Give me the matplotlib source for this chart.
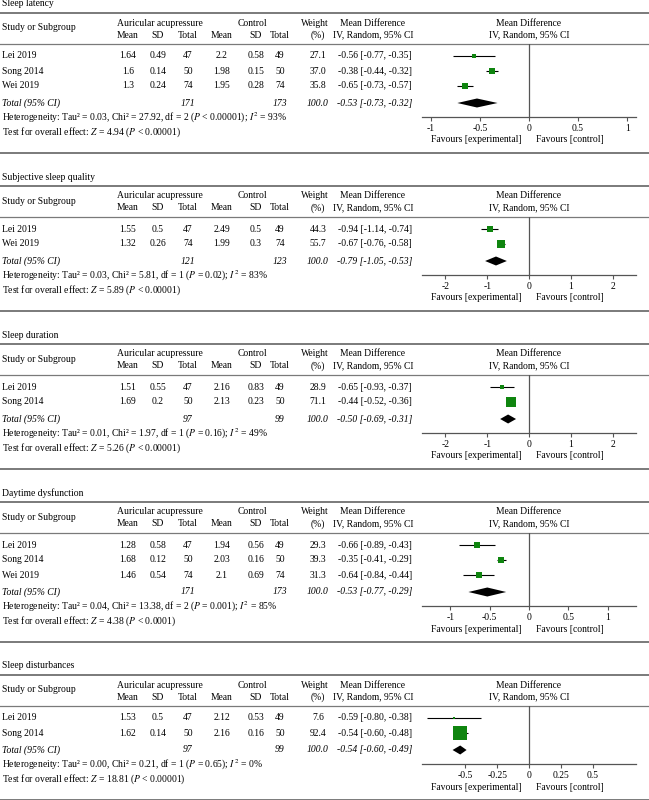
import numpy as np
import matplotlib.pyplot as plt

plt.rcParams["font.family"] = ["Liberation Serif", "DejaVu Serif"]
plt.rcParams["mathtext.fontset"] = "stix"
plt.rcParams["axes.unicode_minus"] = False

# ---- data ----
# Sleep latency
lat_study = ["Lei 2019", "Song 2014", "Wei 2019"]
lat_exp_mean = [1.64, 1.6, 1.3]
lat_exp_sd = [0.49, 0.14, 0.24]
lat_exp_n = [47, 50, 74]
lat_ctl_mean = [2.2, 1.98, 1.95]
lat_ctl_sd = [0.58, 0.15, 0.28]
lat_ctl_n = [49, 50, 74]
lat_weight = [27.1, 37.0, 35.8]
lat_md = [-0.56, -0.38, -0.65]
lat_lo = [-0.77, -0.44, -0.73]
lat_hi = [-0.35, -0.32, -0.57]
lat_total = [-0.53, -0.73, -0.32]
lat_het = ["0.03", "27.92", 2, "< 0.00001", 93]
lat_z = ["4.94", "< 0.00001"]

# Subjective sleep quality
qual_study = ["Lei 2019", "Wei 2019"]
qual_exp_mean = [1.55, 1.32]
qual_exp_sd = [0.5, 0.26]
qual_exp_n = [47, 74]
qual_ctl_mean = [2.49, 1.99]
qual_ctl_sd = [0.5, 0.3]
qual_ctl_n = [49, 74]
qual_weight = [44.3, 55.7]
qual_md = [-0.94, -0.67]
qual_lo = [-1.14, -0.76]
qual_hi = [-0.74, -0.58]
qual_total = [-0.79, -1.05, -0.53]
qual_het = ["0.03", "5.81", 1, "= 0.02", 83]
qual_z = ["5.89", "< 0.00001"]

# Sleep duration
dur_study = ["Lei 2019", "Song 2014"]
dur_exp_mean = [1.51, 1.69]
dur_exp_sd = [0.55, 0.2]
dur_exp_n = [47, 50]
dur_ctl_mean = [2.16, 2.13]
dur_ctl_sd = [0.83, 0.23]
dur_ctl_n = [49, 50]
dur_weight = [28.9, 71.1]
dur_md = [-0.65, -0.44]
dur_lo = [-0.93, -0.52]
dur_hi = [-0.37, -0.36]
dur_total = [-0.50, -0.69, -0.31]
dur_het = ["0.01", "1.97", 1, "= 0.16", 49]
dur_z = ["5.26", "< 0.00001"]

# Daytime dysfunction
day_study = ["Lei 2019", "Song 2014", "Wei 2019"]
day_exp_mean = [1.28, 1.68, 1.46]
day_exp_sd = [0.58, 0.12, 0.54]
day_exp_n = [47, 50, 74]
day_ctl_mean = [1.94, 2.03, 2.1]
day_ctl_sd = [0.56, 0.16, 0.69]
day_ctl_n = [49, 50, 74]
day_weight = [29.3, 39.3, 31.3]
day_md = [-0.66, -0.35, -0.64]
day_lo = [-0.89, -0.41, -0.84]
day_hi = [-0.43, -0.29, -0.44]
day_total = [-0.53, -0.77, -0.29]
day_het = ["0.04", "13.38", 2, "= 0.001", 85]
day_z = ["4.38", "< 0.0001"]

# Sleep disturbances
dis_study = ["Lei 2019", "Song 2014"]
dis_exp_mean = [1.53, 1.62]
dis_exp_sd = [0.5, 0.14]
dis_exp_n = [47, 50]
dis_ctl_mean = [2.12, 2.16]
dis_ctl_sd = [0.53, 0.16]
dis_ctl_n = [49, 50]
dis_weight = [7.6, 92.4]
dis_md = [-0.59, -0.54]
dis_lo = [-0.80, -0.60]
dis_hi = [-0.38, -0.48]
dis_total = [-0.54, -0.60, -0.49]
dis_het = ["0.00", "0.21", 1, "= 0.65", 0]
dis_z = ["18.81", "< 0.00001"]

total_weight = 100.0

# x axes of the forest plots
lat_ticks = [-1, -0.5, 0, 0.5, 1]
qual_ticks = [-2, -1, 0, 1, 2]
dur_ticks = [-2, -1, 0, 1, 2]
day_ticks = [-1, -0.5, 0, 0.5, 1]
dis_ticks = [-0.5, -0.25, 0, 0.25, 0.5]

W, H = 649, 800
FS = 6.9
GREEN = "#0f850f"
RULE = "#7a7a7a"
COLS = [128, 158, 188, 222, 256, 280, 318]
MD_X = 375
ZERO_X = 529
AX_L, AX_R = 422, 636

fig = plt.figure(figsize=(W / 100, H / 100), dpi=100)
bg = fig.add_axes([0, 0, 1, 1])
bg.set_xlim(0, W)
bg.set_ylim(H, 0)
bg.axis("off")


def txt(x, y, s, ha="center", **kw):
    bg.text(x, y, s, ha=ha, va="center", fontsize=FS, **kw)


def panel(top, title, study, em, es, en, cm, cs, cn, wt, md, lo, hi,
          total, het, z, ticks, lim):
    n = len(study)
    rows = [top + 43 + 15 * i for i in range(n)]
    y_tot = rows[-1] + 17
    y_het = y_tot + 15
    y_z = y_het + 14
    bottom = y_z + 21
    spine = y_tot + 14

    # rules
    bg.plot([0, W], [top, top], color=RULE, lw=1.4, solid_capstyle="butt")
    bg.plot([0, W], [top + 31, top + 31], color=RULE, lw=0.9)
    bg.plot([0, W], [bottom, bottom], color=RULE, lw=1.4, solid_capstyle="butt")

    txt(2, top - 9, title, ha="left")
    txt(2, top + 15, "Study or Subgroup", ha="left")
    txt(160, top + 10, "Auricular acupressure")
    txt(252, top + 10, "Control")
    txt(315, top + 10, "Weight")
    for x, s in zip(COLS, ["Mean", "SD", "Total", "Mean", "SD", "Total", "(%)"]):
        txt(x, top + 22, s)
    txt(MD_X - 2, top + 10, "Mean Difference")
    txt(MD_X - 2, top + 22, "IV, Random, 95% CI")
    txt(ZERO_X, top + 10, "Mean Difference")
    txt(ZERO_X, top + 22, "IV, Random, 95% CI")

    for i in range(n):
        vals = [em[i], es[i], en[i], cm[i], cs[i], cn[i], wt[i]]
        txt(2, rows[i], study[i], ha="left")
        for x, v in zip(COLS, vals):
            txt(x, rows[i], str(v))
        txt(MD_X, rows[i], f"{md[i]:.2f} [{lo[i]:.2f}, {hi[i]:.2f}]")

    txt(2, y_tot, "Total (95% CI)", ha="left", style="italic")
    txt(COLS[2], y_tot, str(sum(en)), style="italic")
    txt(COLS[5], y_tot, str(sum(cn)), style="italic")
    txt(COLS[6], y_tot, f"{total_weight:.1f}", style="italic")
    txt(MD_X, y_tot, f"{total[0]:.2f} [{total[1]:.2f}, {total[2]:.2f}]",
        style="italic")
    txt(2, y_het, f"Heterogeneity: Tau² = {het[0]}, Chi² = {het[1]}, "
        f"df = {het[2]} ($P$ {het[3]}); $I^2$ = {het[4]}%", ha="left")
    txt(2, y_z, f"Test for overall effect: $Z$ = {z[0]} ($P$ {z[1]})", ha="left")

    # forest plot
    ax_top = top + 31
    ax = fig.add_axes([AX_L / W, 1 - spine / H, (AX_R - AX_L) / W,
                       (spine - ax_top) / H])
    ax.patch.set_alpha(0)
    ypos = np.arange(n)
    y_diam = n - 1 + 17 / 15
    ax.set_ylim(n - 1 + (spine - rows[-1]) / 15, -(rows[0] - ax_top) / 15)
    ax.set_xlim(-lim, lim)
    ax.axvline(0, color="#555555", lw=0.9)
    ax.hlines(ypos, lo, hi, color="black", lw=0.8)
    for y, m, w in zip(ypos, md, wt):
        side = (0.13 * w + 1.2) * 0.72
        ax.plot(m, y, marker="s", ms=side, color=GREEN, mec=GREEN, mew=0)
    ax.fill([total[1], total[0], total[2], total[0]],
            [y_diam, y_diam - 0.3, y_diam, y_diam + 0.3], color="black", lw=0)
    for s in ["top", "right", "left"]:
        ax.spines[s].set_visible(False)
    ax.spines["bottom"].set_color("#555555")
    ax.spines["bottom"].set_linewidth(0.9)
    ax.set_yticks([])
    ax.set_xticks(ticks)
    ax.set_xticklabels([f"{t:g}" for t in ticks])
    ax.tick_params(axis="x", length=3, width=0.8, color="#555555",
                   labelsize=FS, pad=2)

    txt(ZERO_X - 7, spine + 23, "Favours [experimental]", ha="right")
    txt(ZERO_X + 7, spine + 23, "Favours [control]", ha="left")
    return bottom


top = 13
b = panel(top, "Sleep latency", lat_study, lat_exp_mean, lat_exp_sd, lat_exp_n,
          lat_ctl_mean, lat_ctl_sd, lat_ctl_n, lat_weight, lat_md, lat_lo,
          lat_hi, lat_total, lat_het, lat_z, lat_ticks, 1.09)
b = panel(b + 33, "Subjective sleep quality", qual_study, qual_exp_mean,
          qual_exp_sd, qual_exp_n, qual_ctl_mean, qual_ctl_sd, qual_ctl_n,
          qual_weight, qual_md, qual_lo, qual_hi, qual_total, qual_het,
          qual_z, qual_ticks, 2.56)
b = panel(b + 33, "Sleep duration", dur_study, dur_exp_mean, dur_exp_sd,
          dur_exp_n, dur_ctl_mean, dur_ctl_sd, dur_ctl_n, dur_weight, dur_md,
          dur_lo, dur_hi, dur_total, dur_het, dur_z, dur_ticks, 2.56)
b = panel(b + 33, "Daytime dysfunction", day_study, day_exp_mean, day_exp_sd,
          day_exp_n, day_ctl_mean, day_ctl_sd, day_ctl_n, day_weight, day_md,
          day_lo, day_hi, day_total, day_het, day_z, day_ticks, 1.36)
b = panel(b + 33, "Sleep disturbances", dis_study, dis_exp_mean, dis_exp_sd,
          dis_exp_n, dis_ctl_mean, dis_ctl_sd, dis_ctl_n, dis_weight, dis_md,
          dis_lo, dis_hi, dis_total, dis_het, dis_z, dis_ticks, 0.84)

fig.savefig("out.png", dpi=100)
